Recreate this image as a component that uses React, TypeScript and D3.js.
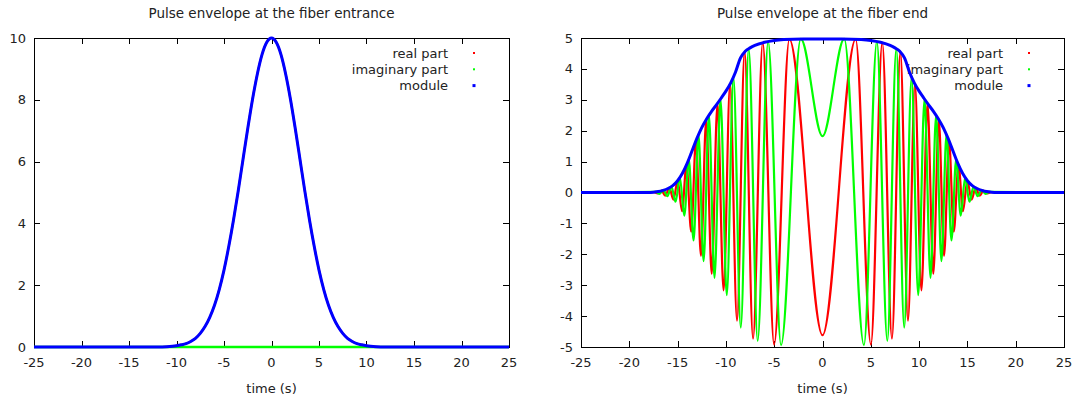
import React from "react";
import * as d3 from "d3";

// shared axis ticks
const timeTicks = [-25, -20, -15, -10, -5, 0, 5, 10, 15, 20, 25];
const entranceYTicks = [0, 2, 4, 6, 8, 10];
const endYTicks = [-5, -4, -3, -2, -1, 0, 1, 2, 3, 4, 5];

const legendLabels = ["real part", "imaginary part", "module"];
const seriesColors = ["#ff0000", "#00ff00", "#0000ff"];

// fiber entrance: unchirped gaussian, real part == module, imaginary part == 0
const entranceTimes = [
  -25, -12, -11, -10, -9.5, -9, -8.5, -8, -7.5, -7, -6.5, -6, -5.5, -5, -4.5, -4, -3.5, -3, -2.5, -2, -1.5, -1, -0.5,
  0, 0.5, 1, 1.5, 2, 2.5, 3, 3.5, 4, 4.5, 5, 5.5, 6, 6.5, 7, 7.5, 8, 8.5, 9, 9.5, 10, 11, 12, 25,
];
const entranceModule = [
  0, 0, 0.01, 0.04, 0.07, 0.11, 0.18, 0.28, 0.44, 0.66, 0.96, 1.35, 1.86, 2.49, 3.25, 4.11, 5.06, 6.07, 7.07, 8.01, 8.82, 9.46, 9.86,
  10, 9.86, 9.46, 8.82, 8.01, 7.07, 6.07, 5.06, 4.11, 3.25, 2.49, 1.86, 1.35, 0.96, 0.66, 0.44, 0.28, 0.18, 0.11, 0.07, 0.04, 0.01, 0, 0,
];
const entranceReal = entranceModule;
const entranceImagTimes = [-25, 25];
const entranceImag = [0, 0];

// fiber end: flat-top envelope
const endModuleTimes = [
  -25, -18, -17.5, -17, -16.5, -16, -15.5, -15, -14.5, -14, -13.5, -13, -12.5, -12, -11.5, -11, -10.5, -10, -9.5, -9,
  -8.5, -8, -7.5, -7, -6, -5, -4, -2, 0, 2, 4, 5, 6, 7, 7.5, 8, 8.5, 9, 9.5, 10, 10.5, 11, 11.5, 12, 12.5, 13, 13.5,
  14, 14.5, 15, 15.5, 16, 16.5, 17, 17.5, 18, 25,
];
const endModule = [
  0, 0, 0.01, 0.03, 0.07, 0.13, 0.22, 0.38, 0.62, 0.95, 1.35, 1.75, 2.1, 2.38, 2.62, 2.83, 3.05, 3.28, 3.55, 3.9,
  4.35, 4.57, 4.68, 4.76, 4.86, 4.92, 4.95, 4.97, 4.97, 4.97, 4.95, 4.92, 4.86, 4.76, 4.68, 4.57, 4.35, 3.9, 3.55, 3.28,
  3.05, 2.83, 2.62, 2.38, 2.1, 1.75, 1.35, 0.95, 0.62, 0.38, 0.22, 0.13, 0.07, 0.03, 0.01, 0, 0,
];

// fiber end: peaks / troughs of the real part
const endRealTimes = [
  -25, -17.45, -17.07, -16.67, -16.27, -15.85, -15.43, -14.99, -14.54, -14.08, -13.59, -13.1, -12.58, -12.04, -11.47,
  -10.87, -10.24, -9.57, -8.85, -8.06, -7.19, -6.19, -5.01, -3.43, 0, 3.43, 5.01, 6.19, 7.19, 8.06, 8.85, 9.57, 10.24,
  10.87, 11.47, 12.04, 12.58, 13.1, 13.59, 14.08, 14.54, 14.99, 15.43, 15.85, 16.27, 16.67, 17.07, 17.45, 25,
];
const endReal = [
  0, 0.01, -0.03, 0.06, -0.1, 0.15, -0.23, 0.38, -0.6, 0.9, -1.27, 1.68, -2.05, 2.36, -2.63, 2.88, -3.17, 3.5, -4.15,
  4.56, -4.73, 4.85, -4.92, 4.96, -4.62, 4.96, -4.92, 4.85, -4.73, 4.56, -4.15, 3.5, -3.17, 2.88, -2.63, 2.36, -2.05,
  1.68, -1.27, 0.9, -0.6, 0.38, -0.23, 0.15, -0.1, 0.06, -0.03, 0.01, 0,
];

// fiber end: peaks / troughs of the imaginary part
const endImagTimes = [
  -25, -17.26, -16.87, -16.47, -16.06, -15.64, -15.21, -14.77, -14.31, -13.84, -13.35, -12.84, -12.31, -11.76, -11.18,
  -10.56, -9.91, -9.22, -8.46, -7.64, -6.71, -5.63, -4.29, -2.25, 0, 2.25, 4.29, 5.63, 6.71, 7.64, 8.46, 9.22, 9.91,
  10.56, 11.18, 11.76, 12.31, 12.84, 13.35, 13.84, 14.31, 14.77, 15.21, 15.64, 16.06, 16.47, 16.87, 17.26, 25,
];
const endImag = [
  0, 0.02, -0.045, 0.08, -0.12, 0.19, -0.3, 0.49, -0.75, 1.08, -1.55, 1.88, -2.22, 2.5, -2.76, 3.02, -3.32, 3.72, -4.37,
  4.66, -4.8, 4.88, -4.94, 4.97, 1.82, 4.97, -4.94, 4.88, -4.8, 4.66, -4.37, 3.72, -3.32, 3.02, -2.76, 2.5, -2.22, 1.88,
  -1.55, 1.08, -0.75, 0.49, -0.3, 0.19, -0.12, 0.08, -0.045, 0.02, 0,
];

interface Series {
  times: number[];
  values: number[];
  width: number;
}

interface PanelProps {
  title: string;
  left: number;
  right: number;
  yDomain: [number, number];
  yTicks: number[];
  series: Series[];
}

const TOP = 38;
const BOTTOM = 347;
const TICK = 6;

const Panel: React.FC<PanelProps> = ({ title, left, right, yDomain, yTicks, series }) => {
  const x = d3.scaleLinear().domain([-25, 25]).range([left, right]);
  const y = d3.scaleLinear().domain(yDomain).range([BOTTOM, TOP]);
  const line = d3
    .line<[number, number]>()
    .x((d) => x(d[0]))
    .y((d) => y(d[1]))
    .curve(d3.curveMonotoneX);

  const cx = (left + right) / 2;
  const keyTextX = right - 61;
  const keyMarkX = right - 35;

  return (
    <g>
      <text x={cx} y={18} textAnchor="middle" fontSize={13.5}>
        {title}
      </text>

      {/* frame + mirrored ticks */}
      <rect x={left + 0.5} y={TOP + 0.5} width={right - left} height={BOTTOM - TOP} fill="none" stroke="#000" strokeWidth={1} />
      {timeTicks.map((t) => (
        <g key={`xt-${t}`}>
          <line x1={Math.round(x(t)) + 0.5} x2={Math.round(x(t)) + 0.5} y1={BOTTOM} y2={BOTTOM - TICK} stroke="#000" />
          <line x1={Math.round(x(t)) + 0.5} x2={Math.round(x(t)) + 0.5} y1={TOP} y2={TOP + TICK} stroke="#000" />
          <text x={x(t)} y={367} textAnchor="middle" fontSize={13}>
            {t}
          </text>
        </g>
      ))}
      {yTicks.map((v) => (
        <g key={`yt-${v}`}>
          <line x1={left} x2={left + TICK} y1={Math.round(y(v)) + 0.5} y2={Math.round(y(v)) + 0.5} stroke="#000" />
          <line x1={right} x2={right - TICK} y1={Math.round(y(v)) + 0.5} y2={Math.round(y(v)) + 0.5} stroke="#000" />
          <text x={left - 8} y={y(v) + 4.5} textAnchor="end" fontSize={13}>
            {v}
          </text>
        </g>
      ))}
      <text x={cx} y={393} textAnchor="middle" fontSize={13}>
        time (s)
      </text>

      {/* key entry, then its curve (gnuplot order) */}
      {series.map((s, i) => (
        <g key={`s-${i}`}>
          <text x={keyTextX} y={57.5 + i * 16.3} textAnchor="end" fontSize={13}>
            {legendLabels[i]}
          </text>
          <rect
            x={keyMarkX - (i === 2 ? 1.5 : 1)}
            y={53 + i * 16.3 - (i === 2 ? 1.5 : 1)}
            width={i === 2 ? 3 : 2}
            height={i === 2 ? 3 : 2}
            fill={seriesColors[i]}
          />
          <path
            d={line(d3.zip(s.times, s.values) as [number, number][]) || ""}
            fill="none"
            stroke={seriesColors[i]}
            strokeWidth={s.width}
            strokeLinejoin="round"
          />
        </g>
      ))}
    </g>
  );
};

export default function App() {
  return (
    <svg
      width={1077}
      height={398}
      style={{ position: "absolute", left: 0, top: 0, background: "#fff" }}
      fontFamily="'DejaVu Sans', sans-serif"
      fill="#222"
    >
      <rect width={1077} height={398} fill="#fff" />
      <Panel
        title="Pulse envelope at the fiber entrance"
        left={34}
        right={509}
        yDomain={[0, 10]}
        yTicks={entranceYTicks}
        series={[
          { times: entranceTimes, values: entranceReal, width: 2 },
          { times: entranceImagTimes, values: entranceImag, width: 2.5 },
          { times: entranceTimes, values: entranceModule, width: 3 },
        ]}
      />
      <Panel
        title="Pulse envelope at the fiber end"
        left={581}
        right={1064}
        yDomain={[-5, 5]}
        yTicks={endYTicks}
        series={[
          { times: endRealTimes, values: endReal, width: 2.2 },
          { times: endImagTimes, values: endImag, width: 2.2 },
          { times: endModuleTimes, values: endModule, width: 3 },
        ]}
      />
    </svg>
  );
}
